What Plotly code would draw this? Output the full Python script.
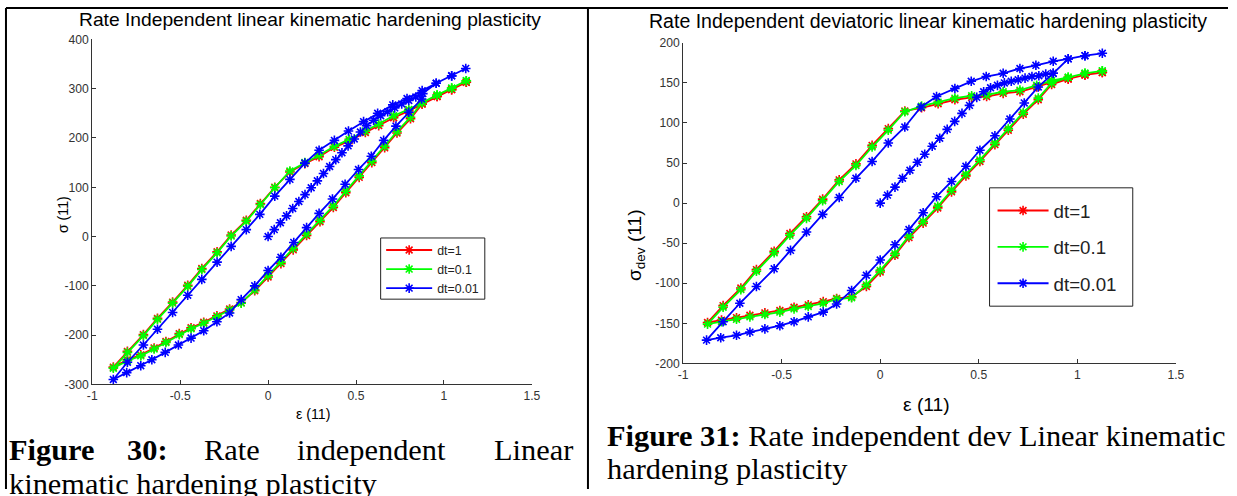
import plotly.graph_objects as go

# ---------------- data ----------------
x_ticks = [-1, -0.5, 0, 0.5, 1, 1.5]
x_tick_text = ["-1", "-0.5", "0", "0.5", "1", "1.5"]
y_ticks_left = [-300, -200, -100, 0, 100, 200, 300, 400]
y_tick_text_left = ["-300", "-200", "-100", "0", "100", "200", "300", "400"]
y_ticks_right = [-200, -150, -100, -50, 0, 50, 100, 150, 200]
y_tick_text_right = ["-200", "-150", "-100", "-50", "0", "50", "100", "150", "200"]
series_names = ["dt=1", "dt=0.1", "dt=0.01"]

# Left chart: sigma(11) vs eps(11)
left_dt1_x = [1.127, 1.044, 0.961, 0.876, 0.800, 0.714, 0.629, 0.553, 0.461, 0.377, 0.290, 0.209, 0.124, 0.038, -0.044,
              -0.124, -0.210, -0.290, -0.377, -0.457, -0.543, -0.629, -0.709, -0.800, -0.880,
              -0.800, -0.724, -0.648, -0.581, -0.505, -0.438, -0.366, -0.291, -0.219, -0.153, -0.076, 0.000, 0.073,
              0.143, 0.219, 0.295, 0.371, 0.442, 0.518, 0.590, 0.663, 0.733, 0.810, 0.876, 0.961, 1.044, 1.127]
left_dt1_y = [313, 298, 284, 269, 255, 241, 225, 211, 194, 181, 162, 148, 131, 100, 67,
              33, 3, -31, -65, -99, -133, -166, -199, -233, -265,
              -250, -240, -226, -213, -197, -185, -174, -161, -147, -134, -110, -82, -55,
              -27, 2, 30, 59, 89, 120, 150, 180, 210, 239, 269, 284, 298, 313]

left_dt01_x = [1.127, 1.044, 0.961, 0.876, 0.800, 0.714, 0.629, 0.553, 0.461, 0.377, 0.290, 0.209, 0.124, 0.038, -0.044,
               -0.124, -0.210, -0.290, -0.377, -0.457, -0.543, -0.629, -0.709, -0.800, -0.880,
               -0.800, -0.724, -0.648, -0.581, -0.505, -0.438, -0.366, -0.291, -0.219, -0.153, -0.076, 0.000, 0.073,
               0.143, 0.219, 0.295, 0.371, 0.442, 0.518, 0.590, 0.663, 0.733, 0.810, 0.876, 0.961, 1.044, 1.127]
left_dt01_y = [316, 301, 287, 272, 258, 245, 228, 214, 197, 183, 165, 150, 133, 99, 65,
               31, 1, -33, -67, -101, -135, -168, -201, -235, -267,
               -252, -242, -228, -215, -199, -187, -176, -163, -149, -135, -108, -79, -52,
               -24, 5, 33, 62, 92, 123, 153, 183, 213, 242, 272, 287, 301, 316]

left_dt001_x = [0.000, 0.035, 0.070, 0.105, 0.140, 0.175, 0.210, 0.245, 0.280, 0.315, 0.350, 0.385, 0.420, 0.455,
                0.490, 0.525, 0.560, 0.600, 0.640, 0.680, 0.720, 0.760, 0.800, 0.840, 0.880,
                0.956, 1.044, 1.124, 1.044, 0.956, 0.876, 0.790, 0.709, 0.623, 0.543, 0.457, 0.377, 0.290, 0.209,
                0.124, 0.038, -0.047, -0.124, -0.210, -0.290, -0.377, -0.457, -0.543, -0.629, -0.709, -0.800, -0.880,
                -0.804, -0.724, -0.661, -0.585, -0.510, -0.438, -0.366, -0.291, -0.219, -0.153, -0.076, 0.000, 0.073,
                0.146, 0.219, 0.290, 0.366, 0.438, 0.514, 0.587, 0.657, 0.727, 0.800, 0.873]
left_dt001_y = [0, 14, 28, 42, 57, 71, 85, 99, 113, 128, 142, 156, 170, 184,
                198, 212, 225, 236, 245, 253, 261, 269, 276, 283, 290,
                311, 326, 341, 326, 311, 296, 280, 267, 250, 233, 214, 195, 175, 149,
                116, 82, 45, 14, -20, -52, -87, -119, -154, -188, -220, -255, -290,
                -276, -262, -250, -235, -220, -206, -191, -173, -155, -128, -100, -69, -42,
                -12, 18, 47, 76, 106, 136, 163, 195, 224, 252, 279]

# Right chart: sigma_dev(11) vs eps(11)
right_dt1_x = [1.127, 1.039, 0.954, 0.870, 0.794, 0.709, 0.624, 0.540, 0.464, 0.379, 0.294, 0.210, 0.125, 0.041,
               -0.041, -0.123, -0.208, -0.292, -0.374, -0.458, -0.538, -0.628, -0.707, -0.797, -0.876,
               -0.805, -0.729, -0.661, -0.585, -0.509, -0.437, -0.365, -0.289, -0.221, -0.145, -0.070, 0.000, 0.075,
               0.146, 0.218, 0.292, 0.362, 0.435, 0.506, 0.582, 0.650, 0.726, 0.802, 0.870, 0.954, 1.039, 1.127]
right_dt1_y = [163, 160, 155, 151, 145, 139, 137, 133, 132, 129, 124, 119, 115, 93,
               72, 49, 29, 5, -17, -38, -60, -83, -106, -128, -149,
               -146, -143, -140, -137, -134, -130, -127, -123, -119, -117, -104, -86, -65,
               -43, -25, -6, 14, 34, 52, 73, 91, 111, 129, 148, 155, 160, 163]

right_dt01_x = [1.127, 1.039, 0.954, 0.870, 0.794, 0.709, 0.624, 0.540, 0.464, 0.379, 0.294, 0.210, 0.125, 0.041,
                -0.041, -0.123, -0.208, -0.292, -0.374, -0.458, -0.538, -0.628, -0.707, -0.797, -0.876,
                -0.805, -0.729, -0.661, -0.585, -0.509, -0.437, -0.365, -0.289, -0.221, -0.145, -0.070, 0.000, 0.075,
                0.146, 0.218, 0.292, 0.362, 0.435, 0.506, 0.582, 0.650, 0.726, 0.802, 0.870, 0.954, 1.039, 1.127]
right_dt01_y = [165, 162, 157, 153, 147, 141, 139, 135, 134, 131, 126, 121, 114, 91,
                70, 47, 27, 3, -19, -40, -62, -85, -108, -130, -151,
                -148, -145, -142, -139, -136, -132, -129, -125, -120, -118, -102, -84, -63,
                -41, -23, -4, 16, 36, 54, 75, 93, 113, 131, 150, 157, 162, 165]

right_dt001_x = [0.000, 0.037, 0.075, 0.113, 0.151, 0.189, 0.226, 0.264, 0.302, 0.340, 0.378, 0.415, 0.453, 0.490,
                 0.525, 0.560, 0.595, 0.630, 0.665, 0.700, 0.735, 0.770, 0.805, 0.840, 0.878,
                 0.954, 1.039, 1.127, 1.039, 0.954, 0.878, 0.790, 0.709, 0.624, 0.538, 0.462, 0.379, 0.286, 0.207,
                 0.125, 0.041, -0.041, -0.123, -0.208, -0.292, -0.374, -0.455, -0.538, -0.628, -0.712, -0.797, -0.881,
                 -0.809, -0.729, -0.661, -0.585, -0.509, -0.437, -0.365, -0.289, -0.221, -0.145, -0.070, 0.000, 0.075,
                 0.146, 0.218, 0.286, 0.362, 0.435, 0.506, 0.582, 0.658, 0.731, 0.802, 0.878]
right_dt001_y = [0, 10, 20, 31, 41, 51, 61, 71, 81, 92, 102, 112, 122, 132,
                 139, 144, 147, 150, 152, 154, 156, 158, 159, 161, 162,
                 180, 184, 187, 184, 180, 177, 172, 168, 162, 158, 152, 143, 133, 120,
                 95, 75, 52, 31, 7, -14, -36, -59, -82, -104, -125, -148, -171,
                 -168, -165, -161, -157, -153, -148, -142, -136, -126, -109, -90, -71, -52,
                 -33, -12, 8, 27, 46, 66, 84, 105, 125, 145, 162]

colors = ["#ff0000", "#00ff00", "#0000ff"]

# ---------------- geometry ----------------
W, H = 1237, 496
MARGIN = 8                       # page body margin
SX, SY = W / (W + 2 * MARGIN), H / (H + 2 * MARGIN)   # page -> picture scale


def fx(x):
    """target picture x (px) -> paper x"""
    return (x / SX - MARGIN) / W


def fy(y):
    """target picture y (px) -> paper y"""
    return 1 - (y / SY - MARGIN) / H


def fs(size):
    return size / SX


fig = go.Figure()

left_data = [(left_dt1_x, left_dt1_y), (left_dt01_x, left_dt01_y), (left_dt001_x, left_dt001_y)]
right_data = [(right_dt1_x, right_dt1_y), (right_dt01_x, right_dt01_y), (right_dt001_x, right_dt001_y)]

for i, (xs, ys) in enumerate(left_data):
    fig.add_trace(go.Scatter(
        x=xs, y=ys, mode="lines+markers", name=series_names[i],
        xaxis="x", yaxis="y", legend="legend", legendgroup="L%d" % i,
        line=dict(color=colors[i], width=1.8),
        marker=dict(symbol="asterisk-open", size=8, color=colors[i],
                    line=dict(color=colors[i], width=1.6)),
    ))

for i, (xs, ys) in enumerate(right_data):
    fig.add_trace(go.Scatter(
        x=xs, y=ys, mode="lines+markers", name=series_names[i],
        xaxis="x2", yaxis="y2", legend="legend2", legendgroup="R%d" % i,
        line=dict(color=colors[i], width=1.8),
        marker=dict(symbol="asterisk-open", size=8, color=colors[i],
                    line=dict(color=colors[i], width=1.6)),
    ))

sans = "Liberation Sans, Arial, sans-serif"
serif = "Liberation Serif, Times New Roman, serif"

axis_common = dict(showline=True, linecolor="#333333", linewidth=1, mirror=False,
                   ticks="inside", ticklen=4, tickcolor="#333333", showgrid=False, zeroline=False,
                   tickfont=dict(family=sans, size=fs(12), color="#333333"))

fig.update_layout(
    width=W, height=H, autosize=False,
    margin=dict(l=0, r=0, t=0, b=0, pad=0),
    paper_bgcolor="white", plot_bgcolor="white",
    xaxis=dict(domain=[fx(95), fx(534)], range=[-1, 1.5], anchor="y",
               tickvals=x_ticks, ticktext=x_tick_text, **axis_common),
    yaxis=dict(domain=[fy(384), fy(40)], range=[-300, 400], anchor="x",
               tickvals=y_ticks_left, ticktext=y_tick_text_left, **axis_common),
    xaxis2=dict(domain=[fx(685), fx(1177)], range=[-1, 1.5], anchor="y2",
                tickvals=x_ticks, ticktext=x_tick_text, **axis_common),
    yaxis2=dict(domain=[fy(363), fy(43.5)], range=[-200, 200], anchor="x2",
                tickvals=y_ticks_right, ticktext=y_tick_text_right, **axis_common),
    legend=dict(x=fx(383.5), y=fy(235.5), xanchor="left", yanchor="top",
                bgcolor="rgba(0,0,0,0)", borderwidth=0,
                font=dict(family=sans, size=fs(12.2), color="#222222"),
                tracegroupgap=0, traceorder="grouped", itemwidth=46),
    legend2=dict(x=fx(994), y=fy(192), xanchor="left", yanchor="top",
                 bgcolor="rgba(0,0,0,0)", borderwidth=0,
                 font=dict(family=sans, size=fs(18.5), color="#222222"),
                 tracegroupgap=9, traceorder="grouped", itemwidth=51),
    showlegend=True,
)

annotations = []


def add_text(text, x, y, size, family=sans, xanchor="center", yanchor="middle", angle=0, color="#000000"):
    annotations.append(dict(text=text, x=fx(x), y=fy(y), xref="paper", yref="paper",
                            xanchor=xanchor, yanchor=yanchor, showarrow=False, textangle=angle,
                            font=dict(family=family, size=fs(size), color=color)))


# titles
add_text("Rate Independent linear kinematic hardening plasticity", 312, 20, 19)
add_text("Rate Independent deviatoric linear kinematic hardening plasticity", 930, 22, 19.3)
# axis labels
add_text("ε (11)", 315, 413, 14)
add_text("ε (11)", 928, 404, 19)
add_text("σ (11)", 66, 215, 14, angle=-90)
add_text("σ<sub>dev</sub> (11)", 638, 245, 19, angle=-90)
# captions
add_text("<b>Figure</b>", 10, 449, 30, family=serif, xanchor="left")
add_text("<b>30:</b>", 128, 449, 30, family=serif, xanchor="left")
add_text("Rate", 205, 449, 30, family=serif, xanchor="left")
add_text("independent", 297, 449, 30, family=serif, xanchor="left")
add_text("Linear", 577, 449, 30, family=serif, xanchor="right")
add_text("kinematic hardening plasticity", 10, 483, 30, family=serif, xanchor="left")
add_text("<b>Figure 31:</b> Rate independent dev Linear kinematic", 607, 435, 30, family=serif, xanchor="left")
add_text("hardening plasticity", 607, 468, 30, family=serif, xanchor="left")

fig.update_layout(annotations=annotations)

# table borders and legend boxes
border = dict(color="#000000", width=2)
box = dict(color="#222222", width=1)
shapes = [
    dict(type="line", xref="paper", yref="paper", x0=0.0008, x1=1, y0=0.998, y1=0.998, line=border),
    dict(type="line", xref="paper", yref="paper", x0=0.0008, x1=0.0008, y0=0.998, y1=0, line=border),
    dict(type="line", xref="paper", yref="paper", x0=fx(590), x1=fx(590), y0=0.998, y1=0, line=border),
    dict(type="rect", xref="paper", yref="paper", x0=fx(383), x1=fx(487), y0=fy(299), y1=fy(238),
         line=box, fillcolor="white", layer="above"),
    dict(type="rect", xref="paper", yref="paper", x0=fx(991), x1=fx(1134), y0=fy(306), y1=fy(188),
         line=box, fillcolor="white", layer="above"),
]
fig.update_layout(shapes=shapes)

fig.write_html("out.html")
